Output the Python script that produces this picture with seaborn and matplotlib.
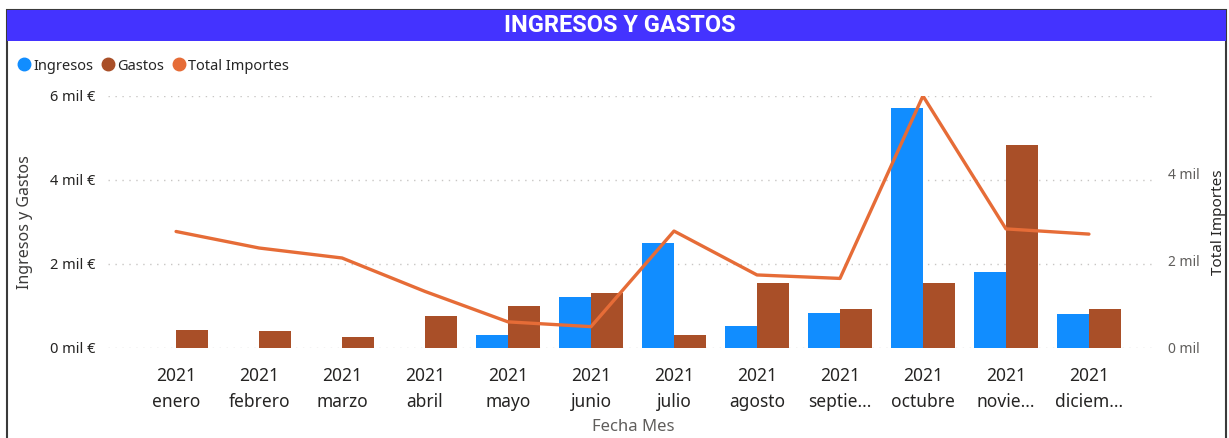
import numpy as np
import pandas as pd
import seaborn as sns
import matplotlib.pyplot as plt
from matplotlib.patches import Rectangle
from matplotlib.lines import Line2D

# DATA (miles de €)
MESES = ['enero', 'febrero', 'marzo', 'abril', 'mayo', 'junio', 'julio',
         'agosto', 'septie...', 'octubre', 'novie...', 'diciem...']
ANIO = '2021'
INGRESOS = [0.0, 0.0, 0.0, 0.0, 0.31, 1.21, 2.50, 0.52, 0.83, 5.72, 1.79, 0.80]
GASTOS = [0.42, 0.39, 0.24, 0.75, 0.99, 1.31, 0.31, 1.54, 0.91, 1.54, 4.83, 0.91]
TOTAL_IMPORTES = [2.67, 2.29, 2.06, 1.29, 0.59, 0.48, 2.68, 1.67, 1.59, 5.79, 2.73, 2.61]
LEFT_TICKS = [0, 2, 4, 6]
RIGHT_TICKS = [0, 2, 4]

BLUE = '#118DFF'
BROWN = '#A94F28'
ORANGE = '#E66C37'
DARK = '#252423'
GREY = '#605E5C'

sns.set_theme(style='white')
plt.rcParams['font.family'] = ['Noto Sans', 'DejaVu Sans']


def main():
    labels = [f'{ANIO}\n{m}' for m in MESES]
    df = pd.DataFrame({
        'mes': labels * 2,
        'serie': ['Ingresos'] * len(MESES) + ['Gastos'] * len(MESES),
        'valor': INGRESOS + GASTOS,
    })

    fig = plt.figure(figsize=(12.29, 4.38), dpi=100)
    ax = fig.add_axes([0.0879, 0.2066, 0.8535, 0.5744])

    # 1. Bars
    sns.barplot(data=df, x='mes', y='valor', hue='serie', palette=[BLUE, BROWN],
                width=0.77, saturation=1, legend=False, linewidth=0, ax=ax)

    # 2. Line on second axis
    ax2 = ax.twinx()
    sns.lineplot(x=np.arange(len(MESES)), y=TOTAL_IMPORTES, ax=ax2,
                 color=ORANGE, linewidth=2.4)
    ax2.set_ylim(0, max(TOTAL_IMPORTES))
    ax.set_ylim(0, 6)
    ax.set_xlim(-0.82, len(MESES) - 1 + 0.82)

    # 3. Axes styling
    for a in (ax, ax2):
        for s in a.spines.values():
            s.set_visible(False)
    ax.set_yticks(LEFT_TICKS)
    ax.set_yticklabels([f'{t} mil €' for t in LEFT_TICKS], fontsize=10.5, color=DARK)
    ax.yaxis.grid(True, color='#C8C6C4', linestyle=(0, (1, 4)), linewidth=1)
    ax.tick_params(axis='y', length=0, pad=9)
    ax.set_xticks(np.arange(len(MESES)))
    ax.set_xticklabels(labels, fontsize=12.5, color=DARK, linespacing=1.6)
    ax.tick_params(axis='x', length=0, pad=14)

    ax2.set_yticks(RIGHT_TICKS)
    ax2.set_yticklabels([f'{t} mil' for t in RIGHT_TICKS], fontsize=10, color=GREY)
    ax2.tick_params(axis='y', length=0, pad=8)
    ax2.grid(False)

    ax.set_xlabel('Fecha Mes', fontsize=12, color=GREY, va='center')
    ax.xaxis.set_label_coords(0.5005, -0.316)
    ax.set_ylabel('Ingresos y Gastos', fontsize=11.5, color='#3B3A39', va='center')
    ax.yaxis.set_label_coords(-0.0791, 0.5)
    ax2.set_ylabel('Total Importes', fontsize=11, color=DARK, rotation=90, va='center')
    ax2.yaxis.set_label_coords(1.059, 0.5)

    # 4. Frame, title bar, legend
    fig.patches.append(Rectangle((7 / 1229, -0.01), 1219 / 1229, 1 - 10 / 438 + 0.01,
                                 transform=fig.transFigure, fill=False,
                                 edgecolor='#3A3A3A', linewidth=1.5))
    fig.patches.append(Rectangle((7 / 1229, 1 - 41 / 438), 1219 / 1229, 31 / 438,
                                 transform=fig.transFigure, facecolor='#4433FF',
                                 edgecolor='none'))
    fig.text(0.5045, 1 - 26 / 438, 'INGRESOS Y GASTOS', ha='center', va='center',
             color='white', fontsize=17, fontweight='bold', family='Roboto')

    handles = [Line2D([], [], marker='o', linestyle='', markersize=9, color=c)
               for c in (BLUE, BROWN, ORANGE)]
    fig.legend(handles, ['Ingresos', 'Gastos', 'Total Importes'], loc='center left',
               bbox_to_anchor=(0.008, 1 - 66 / 438), ncol=3, frameon=False,
               fontsize=10.5, handletextpad=0.0, columnspacing=0.45,
               handlelength=1.2, borderaxespad=0)

    fig.savefig('out.png', dpi=100)


if __name__ == '__main__':
    main()
